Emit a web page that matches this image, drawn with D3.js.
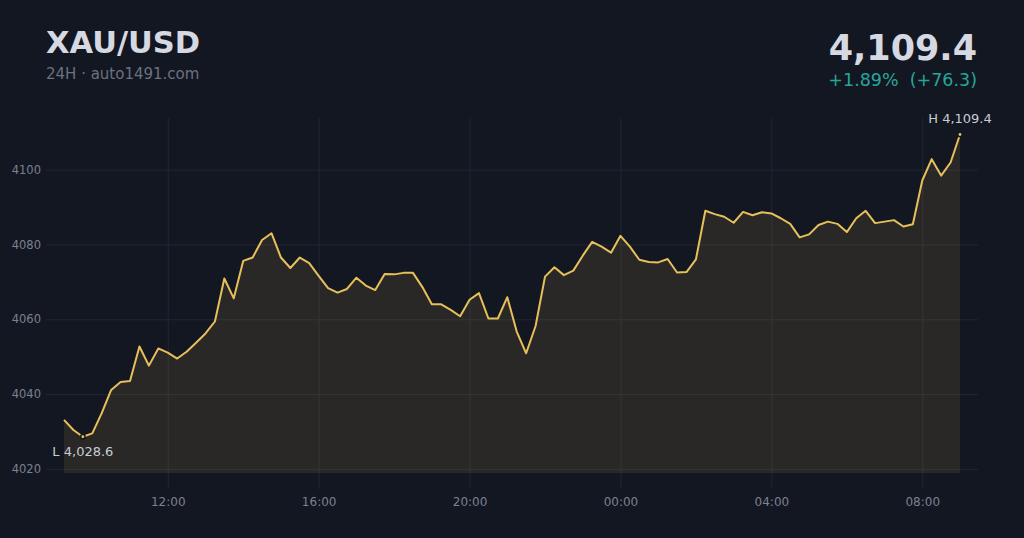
<!DOCTYPE html>
<html>
<head>
<meta charset="utf-8">
<script src="https://cdn.jsdelivr.net/npm/d3@7"></script>
<style>
  html, body { margin: 0; padding: 0; background: #131722; }
  svg { display: block; font-family: "DejaVu Sans", sans-serif; }
</style>
</head>
<body>
<svg id="chart" width="1024" height="538"></svg>
<script>
// ---- data ----
const symbol = "XAU/USD";
const subtitle = "24H · auto1491.com";
const startTime = [2025, 0, 14, 9, 15]; // first sample, 15-minute steps
const stepMinutes = 15;
const prices = [
  4033.1, 4030.4, 4028.6, 4029.5, 4034.9, 4041.1, 4043.2, 4043.5, 4052.7, 4047.6,
  4052.2, 4051.1, 4049.5, 4051.3, 4053.7, 4056.2, 4059.4, 4070.9, 4065.6, 4075.6,
  4076.5, 4081.2, 4083.0, 4076.5, 4073.7, 4076.5, 4075.0, 4071.6, 4068.3, 4067.1,
  4068.1, 4071.1, 4069.0, 4067.8, 4072.1, 4072.0, 4072.4, 4072.4, 4068.6, 4064.0,
  4064.0, 4062.5, 4060.8, 4065.2, 4067.0, 4060.2, 4060.2, 4065.9, 4056.7, 4050.9,
  4058.2, 4071.4, 4073.9, 4071.8, 4073.0, 4077.0, 4080.7, 4079.4, 4077.8, 4082.3,
  4079.4, 4075.9, 4075.3, 4075.2, 4076.1, 4072.5, 4072.6, 4076.0, 4089.0, 4088.1,
  4087.4, 4085.8, 4088.7, 4087.8, 4088.6, 4088.3, 4087.0, 4085.5, 4081.9, 4082.7,
  4085.2, 4086.1, 4085.5, 4083.3, 4087.0, 4089.0, 4085.7, 4086.1, 4086.5, 4084.8,
  4085.4, 4097.1, 4102.8, 4098.4, 4101.9, 4109.4
];
const yTicks = [4020, 4040, 4060, 4080, 4100];
const yDomain = [4018.9, 4113.8];

// ---- build ----
(function () {
const t0 = new Date(...startTime);
const data = prices.map((v, i) => ({ t: new Date(t0.getTime() + i * stepMinutes * 60000), v }));

const W = 1024, H = 538;
const pLeft = 64, pRight = 960, pTop = 118, pBottom = 473;
const bg = "#131722", gold = "#e8c05a", grid = "#222633";

const svg = d3.select("#chart");
svg.append("rect").attr("width", W).attr("height", H).attr("fill", bg);

const x = d3.scaleTime().domain(d3.extent(data, d => d.t)).range([pLeft, pRight]);
const y = d3.scaleLinear().domain(yDomain).range([pBottom, pTop]);

// horizontal grid + y labels
const yAxis = svg.append("g").attr("transform", `translate(${pLeft - 18},0)`)
  .call(d3.axisLeft(y).tickValues(yTicks).tickSize(-(pRight - pLeft + 36)).tickPadding(5).tickFormat(d3.format("d")));
yAxis.select(".domain").remove();
yAxis.selectAll(".tick line").attr("stroke", grid).attr("stroke-width", 1);
yAxis.selectAll(".tick text").attr("fill", "#7c8190").attr("font-size", 11.5).attr("font-family", "DejaVu Sans");

// vertical grid + x labels
const xAxis = svg.append("g").attr("transform", `translate(0,${pBottom + 16})`)
  .call(d3.axisBottom(x).ticks(d3.timeHour.every(4)).tickFormat(d3.timeFormat("%H:%M"))
    .tickSize(-(pBottom + 16 - pTop)).tickPadding(8));
xAxis.select(".domain").remove();
xAxis.selectAll(".tick line").attr("stroke", grid).attr("stroke-width", 1);
xAxis.selectAll(".tick text").attr("fill", "#7c8190").attr("font-size", 12).attr("font-family", "DejaVu Sans");

// area + line
svg.append("path").datum(data)
  .attr("d", d3.area().x(d => x(d.t)).y0(pBottom).y1(d => y(d.v)))
  .attr("fill", gold).attr("fill-opacity", 0.1);
svg.append("path").datum(data)
  .attr("d", d3.line().x(d => x(d.t)).y(d => y(d.v)))
  .attr("fill", "none").attr("stroke", gold).attr("stroke-width", 2).attr("stroke-linejoin", "round");

// high / low markers
const fmt1 = d3.format(",.1f");
const lo = data[d3.minIndex(data, d => d.v)];
const hi = data[d3.maxIndex(data, d => d.v)];
[lo, hi].forEach(d => {
  svg.append("circle").attr("cx", x(d.t)).attr("cy", y(d.v)).attr("r", 2.2)
    .attr("fill", gold).attr("stroke", bg).attr("stroke-width", 1.5);
});
svg.append("text").attr("x", x(hi.t)).attr("y", y(hi.v) - 11.5).attr("text-anchor", "middle")
  .attr("fill", "#c8ccd4").attr("font-size", 13).text("H " + fmt1(hi.v));
svg.append("text").attr("x", x(lo.t)).attr("y", y(lo.v) + 19).attr("text-anchor", "middle")
  .attr("fill", "#c8ccd4").attr("font-size", 13).text("L " + fmt1(lo.v));

// header
svg.append("text").attr("x", 46).attr("y", 53).attr("font-size", 30.5).attr("font-weight", "bold")
  .attr("fill", "#d6d9e1").text(symbol);
svg.append("text").attr("x", 46).attr("y", 79).attr("font-size", 15)
  .attr("fill", "#6c7180").text(subtitle);

const first = prices[0], last = prices[prices.length - 1];
const chg = last - first, pct = chg / first * 100;
svg.append("text").attr("x", 977).attr("y", 60).attr("text-anchor", "end")
  .attr("font-size", 35).attr("font-weight", "bold").attr("fill", "#d6d9e1").text(fmt1(last));
svg.append("text").attr("x", 977).attr("y", 86).attr("text-anchor", "end")
  .attr("font-size", 17.5).attr("fill", "#26a69a").style("white-space", "pre")
  .text((chg >= 0 ? "+" : "") + pct.toFixed(2) + "%  (" + (chg >= 0 ? "+" : "") + chg.toFixed(1) + ")");
})();
</script>
</body>
</html>
